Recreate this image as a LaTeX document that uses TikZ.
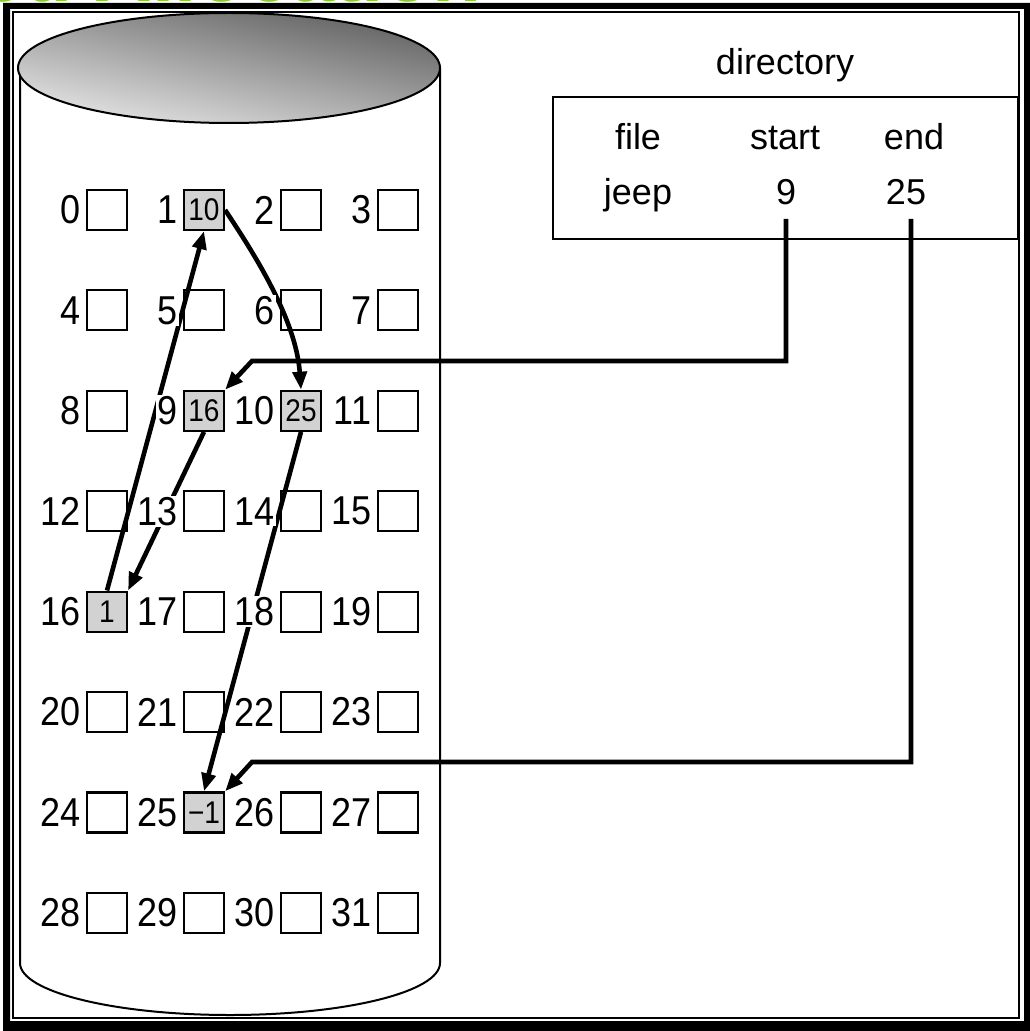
\documentclass[tikz,border=0pt]{standalone}
\usepackage{fontspec}
\usepackage{graphicx}
\setmainfont{Liberation Sans}
\usetikzlibrary{arrows.meta}
\definecolor{boxgray}{HTML}{D2D2D2}
\definecolor{titlegreen}{HTML}{8CC63F}
\newcommand\tallnum[1]{\scalebox{1}[1.12]{#1}}
\begin{document}
\begin{tikzpicture}[x=0.5pt,y=-0.5pt,
  blk/.style={draw, line width=1.1pt, minimum size=20pt, inner sep=0pt, fill=white},
  fullblk/.style={blk, fill=boxgray, font=\fontsize{14}{14}\selectfont},
  lab/.style={font=\fontsize{18}{18}\selectfont, inner sep=0.6pt, fill=white, anchor=east},
  dtext/.style={font=\fontsize{18}{18}\selectfont, anchor=base, inner sep=0pt},
  arr/.style={line width=2.3pt, -{Triangle[length=9pt,width=7pt]}},
  thinline/.style={line width=1pt}]
\useasboundingbox (0,0) rectangle (1029,1031);
\node[font=\bfseries\fontsize{40}{40}\selectfont, text=titlegreen, anchor=base east, inner sep=0pt] (title) at (482,2) {Linked Allocation};
% cylinder
\draw[thinline, fill=white] (20,68) -- (20,963) arc[start angle=180, end angle=0, x radius=210, y radius=52] -- (440,68);
\shadedraw[thinline, top color=black!62, middle color=black!42, bottom color=black!10, shading angle=-12] (229,68) ellipse [x radius=211, y radius=55];
% blocks
\foreach \i in {0,2,3,4,5,6,7,8,11,12,13,14,15,17,18,19,20,21,22,23,24,26,27,28,29,30,31} {
  \node[blk] (b\i) at ({107+97*mod(\i,4)},{210+100.4*div(\i,4)}) {};
}
\foreach \i/\v in {1/10,9/16,10/25,16/1,25/−1} {
  \node[fullblk] (b\i) at ({107+97*mod(\i,4)},{210+100.4*div(\i,4)}) {\tallnum{\v}};
}
% directory
\node[draw, thinline, minimum width=232.5pt, minimum height=71pt, inner sep=0pt] (dir) at (785.5,168) {};
\node[dtext] (dirlabel) at (785,75) {directory};
\node[dtext] (hfile) at (638,150) {file};
\node[dtext] (hstart) at (785,150) {start};
\node[dtext] (hend) at (914,150) {end};
\node[dtext] (njeep) at (638,205) {jeep};
\node[dtext] (n9) at (786,205) {9};
\node[dtext] (n25) at (906,205) {25};
% pointers
\draw[arr] ([yshift=-7pt]n9.base) |- (252,361) -- (b9.north east);
\draw[arr] ([xshift=2.5pt,yshift=-7pt]n25.base) |- (252,762) -- (b25.north east);
\draw[arr] (b9.south) -- (b16.north east);
\draw[arr] (b16.north) -- (b1.south);
\draw[arr] (b1.east) .. controls +(30,45) and +(-5,-70) .. (b10.north);
\draw[arr] (b10.south) -- (b25.north);
% block labels
\foreach \i in {0,...,31} {
  \node[lab] (l\i) at ([xshift=-2pt]b\i.west) {\tallnum{\i}};
}
% frame
\fill[black, even odd rule] (3,3) rectangle (1031,1033) (10,9) rectangle (1024,1021);
\draw[thinline] (12.5,12) rectangle (1019,1017.5);
\end{tikzpicture}
\end{document}
